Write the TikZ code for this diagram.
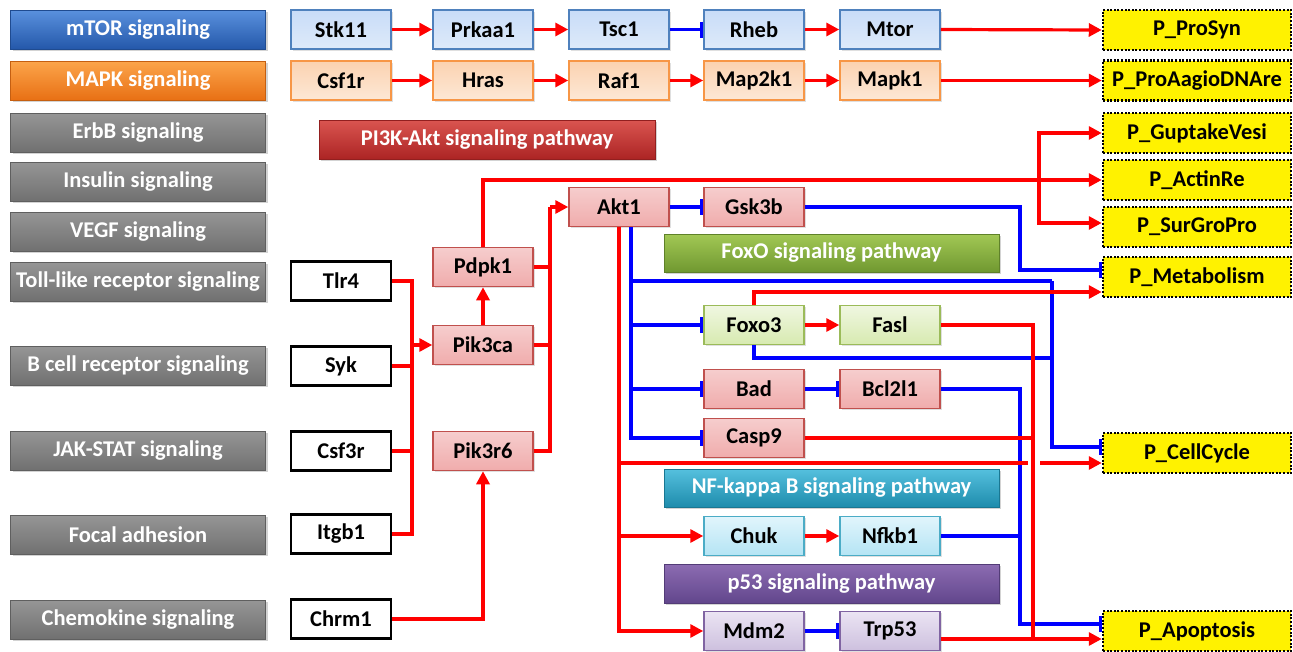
\documentclass[tikz,border=0pt]{standalone}
\usepackage{fontspec}
\setmainfont{Carlito}
\usetikzlibrary{arrows.meta,shadows,calc}
\definecolor{mtorTop}{RGB}{90,145,222}
\definecolor{mtorBot}{RGB}{36,88,170}
\definecolor{mapkTop}{RGB}{252,165,75}
\definecolor{mapkBot}{RGB}{232,112,20}
\definecolor{grayTop}{RGB}{150,150,150}
\definecolor{grayBot}{RGB}{112,112,112}
\definecolor{pikTop}{RGB}{218,85,80}
\definecolor{pikBot}{RGB}{172,36,36}
\definecolor{foxTop}{RGB}{162,200,85}
\definecolor{foxBot}{RGB}{112,152,48}
\definecolor{nfkTop}{RGB}{85,192,222}
\definecolor{nfkBot}{RGB}{30,140,172}
\definecolor{ptfTop}{RGB}{140,108,178}
\definecolor{ptfBot}{RGB}{98,70,140}
\definecolor{gbA}{RGB}{200,220,248}\definecolor{gbB}{RGB}{222,234,250}\definecolor{gbL}{RGB}{79,129,189}
\definecolor{goA}{RGB}{251,210,176}\definecolor{goB}{RGB}{253,232,214}\definecolor{goL}{RGB}{247,150,70}
\definecolor{gpA}{RGB}{246,205,205}\definecolor{gpB}{RGB}{240,172,172}\definecolor{gpL}{RGB}{192,80,77}
\definecolor{ggA}{RGB}{240,247,225}\definecolor{ggB}{RGB}{215,234,176}\definecolor{ggL}{RGB}{155,187,89}
\definecolor{gcA}{RGB}{225,245,252}\definecolor{gcB}{RGB}{180,228,244}\definecolor{gcL}{RGB}{75,172,198}
\definecolor{guA}{RGB}{235,228,243}\definecolor{guB}{RGB}{205,192,222}\definecolor{guL}{RGB}{128,100,162}
\begin{document}
\begin{tikzpicture}[x=1pt,y=-1pt,
  base/.style={inner sep=0pt, minimum height=39pt, font=\fontsize{22.5}{26}\selectfont\bfseries},
  banner/.style={base, minimum width=255pt, text=white, draw=#1Bot!85!black, line width=0.8pt,
     top color=#1Top, bottom color=#1Bot, drop shadow={shadow xshift=2pt,shadow yshift=-2pt,opacity=0.35}},
  gene/.style={base, minimum width=100pt, draw=g#1L, line width=1.5pt, top color=g#1A, bottom color=g#1B,
     drop shadow={shadow xshift=1.5pt,shadow yshift=-1.5pt,opacity=0.25}},
  recep/.style={base, minimum width=100pt, draw=black, line width=2.5pt, fill=white},
  pbox/.style={base, minimum width=188pt, minimum height=40pt, fill=yellow, draw=black, line width=2.5pt, dash pattern=on 2pt off 1.6pt},
  redl/.style={draw=red, line width=3.2pt},
  redarrow/.style={redl, -{Triangle[length=13pt,width=13pt]}},
  bluel/.style={draw=blue, line width=3.2pt},
  blueinh/.style={bluel, -{Bar[width=16pt]}}
]
\useasboundingbox (0,0) rectangle (1293,651);
% left banners
\node[banner=mtor] (bM) at (138,29.5) {mTOR signaling};
\node[banner=mapk] (bK) at (138,80.5) {MAPK signaling};
\node[banner=gray] (bE) at (138,132.5) {ErbB signaling};
\node[banner=gray] (bI) at (138,181.5) {Insulin signaling};
\node[banner=gray] (bV) at (138,231.5) {VEGF signaling};
\node[banner=gray] (bT) at (138,281.5) {Toll-like receptor signaling};
\node[banner=gray] (bB) at (138,365.5) {B cell receptor signaling};
\node[banner=gray] (bJ) at (138,450.5) {JAK-STAT signaling};
\node[banner=gray] (bF) at (138,534.5) {Focal adhesion};
\node[banner=gray] (bC) at (138,619.5) {Chemokine signaling};
% pathway banners
\node[banner=pik, minimum width=336pt] (bP) at (487,139.5) {PI3K-Akt signaling pathway};
\node[banner=fox, minimum width=335pt, minimum height=38pt] (bX) at (831.5,253) {FoxO signaling pathway};
\node[banner=nfk, minimum width=335pt, minimum height=38pt] (bN) at (831.5,488) {NF-kappa B signaling pathway};
\node[banner=ptf, minimum width=335pt] (b5) at (831.5,583.5) {p53 signaling pathway};
% mTOR row
\node[gene=b] (Stk11) at (341,29.5) {Stk11};
\node[gene=b] (Prkaa1) at (483,29.5) {Prkaa1};
\node[gene=b] (Tsc1) at (619,29.5) {Tsc1};
\node[gene=b] (Rheb) at (754,29.5) {Rheb};
\node[gene=b] (Mtor) at (890,29.5) {Mtor};
% MAPK row
\node[gene=o] (Csf1r) at (341,80.5) {Csf1r};
\node[gene=o] (Hras) at (483,80.5) {Hras};
\node[gene=o] (Raf1) at (619,80.5) {Raf1};
\node[gene=o] (Map2k1) at (754,80.5) {Map2k1};
\node[gene=o] (Mapk1) at (890,80.5) {Mapk1};
% P boxes
\node[pbox] (ProSyn) at (1197,30) {P\_ProSyn};
\node[pbox] (ProA) at (1197,80.5) {P\_ProAagioDNAre};
\node[pbox] (Gup) at (1197,133) {P\_GuptakeVesi};
\node[pbox] (Actin) at (1197,180) {P\_ActinRe};
\node[pbox] (Sur) at (1197,227) {P\_SurGroPro};
\node[pbox] (Metab) at (1197,277) {P\_Metabolism};
\node[pbox] (Cell) at (1197,453) {P\_CellCycle};
\node[pbox] (Apop) at (1197,631) {P\_Apoptosis};
% PI3K genes
\node[gene=p] (Pdpk1) at (483,267) {Pdpk1};
\node[gene=p] (Pik3ca) at (483,345) {Pik3ca};
\node[gene=p] (Pik3r6) at (483,451) {Pik3r6};
\node[gene=p] (Akt1) at (619,207) {Akt1};
\node[gene=p] (Gsk3b) at (754,207) {Gsk3b};
\node[gene=g] (Foxo3) at (754,325) {Foxo3};
\node[gene=g] (Fasl) at (890,325) {Fasl};
\node[gene=p] (Bad) at (754,389) {Bad};
\node[gene=p] (Bcl) at (890,389) {Bcl2l1};
\node[gene=p] (Casp9) at (754,438) {Casp9};
\node[gene=c] (Chuk) at (754,536) {Chuk};
\node[gene=c] (Nfkb1) at (890,536) {Nfkb1};
\node[gene=u] (Mdm2) at (754,631) {Mdm2};
\node[gene=u] (Trp53) at (890,631) {Trp53};
% receptors
\node[recep] (Tlr4) at (341,281) {Tlr4};
\node[recep] (Syk) at (341,366) {Syk};
\node[recep] (Csf3r) at (341,451) {Csf3r};
\node[recep] (Itgb1) at (341,534) {Itgb1};
\node[recep] (Chrm1) at (341,619) {Chrm1};
% row connectors
\draw[redarrow] (Stk11.east) -- (Prkaa1.west);
\draw[redarrow] (Prkaa1.east) -- (Tsc1.west);
\draw[blueinh] (Tsc1.east) -- (Rheb.west);
\draw[redarrow] (Rheb.east) -- (Mtor.west);
\draw[redarrow] (Mtor.east) -- (ProSyn.west);
\draw[redarrow] (Csf1r.east) -- (Hras.west);
\draw[redarrow] (Hras.east) -- (Raf1.west);
\draw[redarrow] (Raf1.east) -- (Map2k1.west);
\draw[redarrow] (Map2k1.east) -- (Mapk1.west);
\draw[redarrow] (Mapk1.east) -- (ProA.west);
% coordinates
\coordinate (rb) at (412,281);
\coordinate (pb) at (550,207);
\coordinate (gb) at (1039,180);
\coordinate (ab) at ([xshift=12pt]Akt1.south);
\coordinate (cb) at (1052,281);
\coordinate (fb) at (1052,358);
\coordinate (gx) at (1020,270);
\coordinate (bv) at (1020,624);
\coordinate (fv) at (1033,639);
\coordinate (cc) at ([yshift=-10pt]Cell.west);
% blue connectors
\draw[blueinh] (Akt1.east) -- (Gsk3b.west);
\draw[blueinh] (Gsk3b.east) -| (gx) -- ([yshift=7pt]Metab.west);
\draw[blueinh] (ab) |- (Casp9.west);
\draw[blueinh] (ab |- Bad.west) -- (Bad.west);
\draw[blueinh] (ab |- Foxo3.west) -- (Foxo3.west);
\draw[bluel] (ab |- cb) -- (cb);
\draw[blueinh] (cb) |- ([yshift=6pt]Cell.west);
\draw[bluel] (Foxo3.south) |- (fb);
\draw[blueinh] (Bad.east) -- (Bcl.west);
\draw[blueinh] (Bcl.east) -| (bv) -- ([yshift=7pt]Apop.west);
\draw[bluel] (Nfkb1.east) -- (bv |- Nfkb1.east);
\draw[blueinh] (Mdm2.east) -- (Trp53.west);
% red connectors
\draw[redl] (Tlr4.east) -- (rb) -- (rb |- Itgb1.east) -- (Itgb1.east);
\draw[redl] (Syk.east) -- (rb |- Syk.east);
\draw[redl] (Csf3r.east) -- (rb |- Csf3r.east);
\draw[redarrow] (rb |- Pik3ca.west) -- (Pik3ca.west);
\draw[redarrow] (Chrm1.east) -| (Pik3r6.south);
\draw[redarrow] (Pik3ca.north) -- (Pdpk1.south);
\draw[redl] (Pik3r6.east) -| (pb);
\draw[redarrow] (pb) -- (Akt1.west);
\draw[redl] (Pdpk1.east) -- (pb |- Pdpk1.east);
\draw[redl] (Pik3ca.east) -- (pb |- Pik3ca.east);
\draw[redarrow] (Pdpk1.north) |- (Actin.west);
\draw[redarrow] (gb) |- (Gup.west);
\draw[redarrow] (gb) |- ([yshift=4pt]Sur.west);
\draw[redarrow] (Akt1.south |- cc) -- (cc);
\fill[white] (1028,458) rectangle (1040,468);
\draw[redarrow] (Akt1.south) |- (Mdm2.west);
\draw[redarrow] (Akt1.south |- Chuk.west) -- (Chuk.west);
\draw[redarrow] (Chuk.east) -- (Nfkb1.west);
\draw[redarrow] (Foxo3.east) -- (Fasl.west);
\draw[redarrow] (Foxo3.north) |- ([yshift=-15pt]Metab.west);
\draw[redl] (Fasl.east) -| (fv);
\draw[redl] (Casp9.east) -- (fv |- Casp9.east);
\draw[redarrow] ([yshift=-8pt]Trp53.east) -- ([yshift=-8pt]Apop.west);
\end{tikzpicture}
\end{document}
